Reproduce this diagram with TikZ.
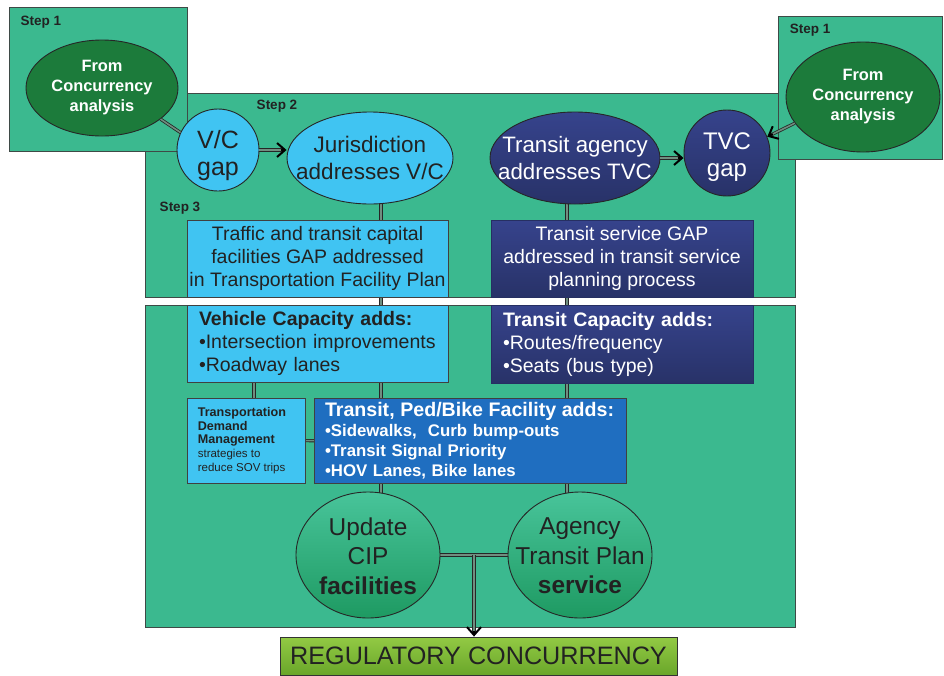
\documentclass[tikz,border=0pt]{standalone}
\usepackage{fontspec}
\setmainfont{Liberation Sans}
\usetikzlibrary{shapes.geometric,arrows.meta,calc}
\pgfdeclarelayer{bg}
\pgfdeclarelayer{cn}
\pgfsetlayers{bg,cn,main}
\definecolor{stepgreen}{HTML}{3BB98F}
\definecolor{framegray}{HTML}{3E4A46}
\definecolor{lblue}{HTML}{40C4F2}
\definecolor{navytop}{HTML}{36438C}
\definecolor{navybot}{HTML}{283268}
\definecolor{dgreen}{HTML}{1C7B3B}
\definecolor{pedblue}{HTML}{1F6EC0}
\definecolor{eltop}{HTML}{48C49A}
\definecolor{elbot}{HTML}{1E9A62}
\definecolor{limetop}{HTML}{92CA44}
\definecolor{limebot}{HTML}{6AA62A}
\definecolor{darktext}{HTML}{222222}
\definecolor{dblin}{HTML}{6F8F80}
\begin{document}
\begin{tikzpicture}[x=1pt,y=-1pt,
  stepframe/.style={draw=framegray, line width=1pt, fill=stepgreen},
  steplbl/.style={font=\bfseries\fontsize{13.5}{15}\selectfont, text=darktext, inner sep=0pt},
  ebase/.style={ellipse, inner sep=0pt, draw=black!85, line width=0.9pt},
  etxt/.style={align=center, inner sep=0pt},
  lbox/.style={rectangle, draw=black!75, line width=0.8pt, fill=lblue, inner sep=0pt, text=darktext},
  nbox/.style={rectangle, draw=navytop!70!black, line width=0.8pt, top color=navytop, bottom color=navybot, inner sep=0pt, text=white},
  dbl/.style={draw=black!85, line width=0.8pt, double=dblin, double distance=1.6pt},
  headonly/.style={draw=black, line width=2pt, -{Straight Barb[length=8pt,width=14pt,line width=2pt]}},
  f19/.style={font=\fontsize{19.5}{23}\selectfont},
]
\useasboundingbox (0,0) rectangle (944,675);

\begin{pgfonlayer}{bg}
  \draw[stepframe] (145,93) rectangle (795,297);
  \draw[stepframe] (145,305) rectangle (795,627);
  \draw[stepframe] (9,7) rectangle (187,151);
  \draw[stepframe] (778,16) rectangle (942,159);
\end{pgfonlayer}

% step labels
\node[steplbl] (s1l) at (41,22) {Step 1};
\node[steplbl] (s1r) at (810,30) {Step 1};
\node[steplbl] (s2) at (277,106) {Step 2};
\node[steplbl] (s3) at (180,208) {Step 3};

% top ellipses / circles
\node[ebase, fill=dgreen, minimum width=152pt, minimum height=96pt] (leftE) at (102,88) {};
\node[etxt, text=white, font=\bfseries\fontsize{16.4}{20}\selectfont] (leftT) at (leftE) {From\\Concurrency\\analysis};
\node[ebase, fill=dgreen, minimum width=154pt, minimum height=110pt] (rightE) at (863,97) {};
\node[etxt, text=white, font=\bfseries\fontsize{16.4}{20}\selectfont] (rightT) at (rightE) {From\\Concurrency\\analysis};

\node[ebase, fill=lblue, minimum width=82pt, minimum height=82pt] (vc) at (218,150) {};
\node[etxt, text=darktext, font=\fontsize{25}{27}\selectfont] (vcT) at (218,156) {V/C\\gap};
\node[ebase, fill=lblue, minimum width=166pt, minimum height=92pt] (jur) at (370,158) {};
\node[etxt, text=darktext, font=\fontsize{22.5}{27}\selectfont] (jurT) at (370,158) {Jurisdiction\\addresses V/C};
\node[ebase, top color=navytop, bottom color=navybot, minimum width=170pt, minimum height=92pt] (ta) at (575,158) {};
\node[etxt, text=white, font=\fontsize{22.3}{27}\selectfont] (taT) at (575,158) {Transit agency\\addresses TVC};
\node[ebase, top color=navytop, bottom color=navybot, minimum width=86pt, minimum height=86pt] (tvc) at (727,153) {};
\node[etxt, text=white, font=\fontsize{24}{27}\selectfont] (tvcT) at (727,157) {TVC\\gap};

% boxes
\node[lbox, f19, minimum width=261pt, minimum height=77pt, align=center] (traffic) at (317.5,258.5)
  {Traffic and transit capital\\facilities GAP addressed\\in Transportation Facility Plan};
\node[lbox, f19, minimum width=261pt, minimum height=77pt, text width=237pt, align=left] (vehicle) at (317.5,343.5)
  {\textbf{Vehicle Capacity adds:}\\•Intersection improvements\\•Roadway lanes};
\node[nbox, f19, minimum width=262pt, minimum height=77pt, align=center] (tsg) at (622,258.5)
  {Transit service GAP\\addressed in transit service\\planning process};
\node[nbox, f19, minimum width=262pt, minimum height=78pt, text width=238pt, align=left] (tca) at (622,344)
  {\textbf{Transit Capacity adds:}\\•Routes/frequency\\•Seats (bus type)};
\node[lbox, minimum width=118pt, minimum height=85pt] (tdm) at (246,440.5) {};
\node[anchor=west, inner sep=0pt, align=left, text=darktext, font=\fontsize{11.5}{13.75}\selectfont] (tdmT) at ([xshift=11pt]tdm.west)
  {{\bfseries\fontsize{12.6}{13.75}\selectfont Transportation}\\{\bfseries\fontsize{12.6}{13.75}\selectfont Demand}\\{\bfseries\fontsize{12.6}{13.75}\selectfont Management}\\strategies to\\reduce SOV trips};
\node[rectangle, draw=black!75, line width=0.8pt, fill=pedblue, inner sep=0pt, text=white, minimum width=312pt, minimum height=85pt, text width=290pt, align=left, font=\bfseries\fontsize{16.8}{20}\selectfont] (ped) at (470,441)
  {{\fontsize{19.6}{22}\selectfont Transit, Ped/Bike Facility adds:}\\•Sidewalks,\ \ Curb bump-outs\\•Transit Signal Priority\\•HOV Lanes, Bike lanes};

% bottom ellipses
\node[ebase, top color=eltop, bottom color=elbot, minimum width=144pt, minimum height=126pt] (update) at (368,555) {};
\node[etxt, text=darktext, font=\fontsize{24.4}{29.5}\selectfont] (updateT) at (368,556) {Update\\CIP\\\textbf{facilities}};
\node[ebase, top color=eltop, bottom color=elbot, minimum width=144pt, minimum height=126pt] (agency) at (580,555) {};
\node[etxt, text=darktext, font=\fontsize{24.4}{29.5}\selectfont] (agencyT) at (580,556) {Agency\\Transit Plan\\\textbf{service}};

\node[rectangle, draw=black!80, line width=0.8pt, top color=limetop, bottom color=limebot, minimum width=397pt, minimum height=38pt, inner sep=0pt, text=darktext, font=\fontsize{25.2}{28}\selectfont] (reg) at (478.5,656) {REGULATORY CONCURRENCY};

% connectors
\begin{pgfonlayer}{cn}
  \coordinate (xa) at (381,0);
  \coordinate (xb) at (254,0);
  \coordinate (xc) at (567,0);
  \draw[dbl] (jur.center -| xa) -- (update.center -| xa);
  \draw[dbl] (vehicle.center -| xb) -- (tdm.center -| xb);
  \draw[dbl] (ta.center -| xc) -- (agency.center -| xc);
  \draw[dbl] (tdm.center) -- (ped.center);
  \draw[dbl] (update.center) -- (agency.center);
  \coordinate (jn) at ($(update.east)!0.5!(agency.west)$);
  \coordinate (jnend) at (jn |- reg.north);
  \draw[dbl, shorten >=3pt] (jn) -- (jnend);
  \draw[headonly] ($(jnend)!6pt!(jn)$) -- (jnend);
\end{pgfonlayer}
\draw[dbl] (leftE.-28) -- (vc.155);
\coordinate (a1s) at (vc.east);
\coordinate (a1e) at (vc.east -| jur.west);
\draw[dbl, shorten >=3pt] (a1s) -- (a1e);
\draw[headonly] ($(a1e)!6pt!(a1s)$) -- (a1e);
\coordinate (a2s) at (ta.east);
\coordinate (a2e) at (ta.east -| tvc.west);
\draw[dbl, shorten >=3pt] (a2s) -- (a2e);
\draw[headonly] ($(a2e)!6pt!(a2s)$) -- (a2e);
\coordinate (a3s) at (rightE.201);
\coordinate (a3e) at (tvc.22);
\draw[dbl, shorten >=3pt] (a3s) -- (a3e);
\draw[headonly] ($(a3e)!6pt!(a3s)$) -- (a3e);
\end{tikzpicture}
\end{document}
